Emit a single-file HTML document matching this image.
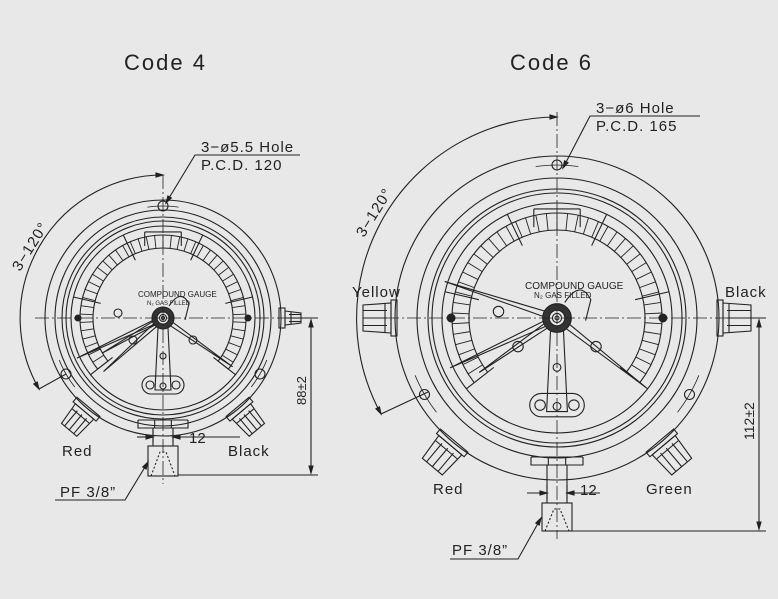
<!DOCTYPE html>
<html><head><meta charset="utf-8">
<style>
html,body{margin:0;padding:0;background:#e8e8e8;}
svg{display:block;}
text{font-family:"Liberation Sans",sans-serif;fill:#222;}
</style></head>
<body>
<svg id="s" width="778" height="599" viewBox="0 0 778 599" xmlns="http://www.w3.org/2000/svg">
<rect width="778" height="599" fill="#e8e8e8"/>
<g id="d" fill="none" stroke="#222" stroke-width="1.1"></g>
<text x="124" y="70" font-size="22" letter-spacing="2">Code 4</text>
<text x="510" y="70" font-size="22" letter-spacing="2">Code 6</text>
<text x="201" y="152" font-size="15" letter-spacing="1">3−ø5.5 Hole</text>
<text x="201" y="170" font-size="15" letter-spacing="1">P.C.D. 120</text>
<text x="596" y="113" font-size="15" letter-spacing="1">3−ø6 Hole</text>
<text x="596" y="131" font-size="15" letter-spacing="1">P.C.D. 165</text>
<text x="62" y="456" font-size="15" letter-spacing="1">Red</text>
<text x="228" y="456" font-size="15" letter-spacing="1">Black</text>
<text x="189" y="443" font-size="15">12</text>
<text x="60" y="497" font-size="15" letter-spacing="1">PF 3/8”</text>
<text x="352" y="297" font-size="15" letter-spacing="1">Yellow</text>
<text x="725" y="297" font-size="15" letter-spacing="1">Black</text>
<text x="433" y="494" font-size="15" letter-spacing="1">Red</text>
<text x="646" y="494" font-size="15" letter-spacing="1">Green</text>
<text x="580" y="495" font-size="15">12</text>
<text x="452" y="555" font-size="15" letter-spacing="1">PF 3/8”</text>
<text transform="translate(306,405) rotate(-90)" font-size="13">88±2</text>
<text transform="translate(754,440) rotate(-90)" font-size="14">112±2</text>
<text transform="translate(20,272) rotate(-58)" font-size="15" letter-spacing="1">3−120°</text>
<text transform="translate(364,238) rotate(-58)" font-size="15" letter-spacing="1">3−120°</text>
<text x="138" y="297" font-size="8">COMPOUND GAUGE</text>
<text x="147" y="305" font-size="6">N₂ GAS FILLED</text>
<text x="525" y="289" font-size="10">COMPOUND GAUGE</text>
<text x="534" y="298" font-size="8">N₂ GAS FILLED</text>
</svg>
<script>
var g=document.getElementById('d'),NS='http://www.w3.org/2000/svg';
function el(t,a){var e=document.createElementNS(NS,t);for(var k in a)e.setAttribute(k,a[k]);g.appendChild(e);return e;}
function L(x1,y1,x2,y2,ex){var a={x1:x1,y1:y1,x2:x2,y2:y2};for(var k in ex||{})a[k]=ex[k];return el('line',a);}
function C(x,y,r,ex){var a={cx:x,cy:y,r:r};for(var k in ex||{})a[k]=ex[k];return el('circle',a);}
function P(d,ex){var a={d:d};for(var k in ex||{})a[k]=ex[k];return el('path',a);}
function pt(cx,cy,r,deg){var a=deg*Math.PI/180;return [cx+r*Math.sin(a),cy-r*Math.cos(a)];}
var dash={'stroke-dasharray':'14 3 2 3','stroke-width':0.8};
function arrow(x,y,ang){var a=ang*Math.PI/180,s=7;var p1=[x-s*Math.cos(a)+2*Math.sin(a),y-s*Math.sin(a)-2*Math.cos(a)],p2=[x-s*Math.cos(a)-2*Math.sin(a),y-s*Math.sin(a)+2*Math.cos(a)];P('M'+x+','+y+'L'+p1+'L'+p2+'Z',{fill:'#222'});}
function gland(cx,cy,r0,deg,w,len){
 var grp=document.createElementNS(NS,'g');grp.setAttribute('transform','translate('+cx+','+cy+') rotate('+deg+')');g.appendChild(grp);
 function add(t,a){var e=document.createElementNS(NS,t);for(var k in a)e.setAttribute(k,a[k]);grp.appendChild(e);}
 add('rect',{x:-w/2-3,y:-r0-6,width:w+6,height:6});
 add('path',{d:'M'+(-w/2)+','+(-r0-6)+'L'+(-w/2+2)+','+(-r0-len)+'L'+(w/2-2)+','+(-r0-len)+'L'+(w/2)+','+(-r0-6)+'Z'});
 for(var i=1;i<4;i++){var xx=-w/2+i*w/4;add('line',{x1:xx,y1:-r0-10,x2:xx,y2:-r0-len});}
 add('line',{x1:-w/2+1,y1:-r0-12,x2:w/2-1,y2:-r0-12});
}
function gauge(o){
 var cx=o.cx,cy=o.cy,k=o.k;
 C(cx,cy,o.R);C(cx,cy,o.R2);C(cx,cy,o.R3);C(cx,cy,o.R3-4);C(cx,cy,o.R4);
 [0,120,240].forEach(function(a){var p=pt(cx,cy,o.Rh,a);C(p[0],p[1],5*k>7?6:5);
  var t1=pt(cx,cy,o.Rh,a-8),t2=pt(cx,cy,o.Rh,a+8);P('M'+t1+'A'+o.Rh+','+o.Rh+' 0 0 1 '+t2,{'stroke-width':0.8});});
 var r1=o.b1,r2=o.b2;
 var s=pt(cx,cy,r1,-128),e=pt(cx,cy,r1,128);P('M'+s+'A'+r1+','+r1+' 0 1 1 '+e);
 s=pt(cx,cy,r2,-128);e=pt(cx,cy,r2,128);P('M'+s+'A'+r2+','+r2+' 0 1 1 '+e);
 for(var a=-128;a<=128.1;a+=256/44){var p=pt(cx,cy,r1,a),q=pt(cx,cy,r2,a);L(p[0],p[1],q[0],q[1],{'stroke-width':0.9});}
 for(var a=-128;a<=128.1;a+=256/5){var p=pt(cx,cy,r1-6*k,a),q=pt(cx,cy,o.R4,a);L(p[0],p[1],q[0],q[1]);}
 var t1=pt(cx,cy,r2+5*k,-12),t2=pt(cx,cy,r2+5*k,12);L(t1[0],t1[1],t1[0],t1[1]+14*k);L(t2[0],t2[1],t2[0],t2[1]+14*k);L(t1[0],t1[1],t2[0],t2[1]);
 C(cx-o.R4+7*k,cy,3*k,{fill:'#222'});C(cx+o.R4-7*k,cy,3*k,{fill:'#222'});
 o.needles.forEach(function(n){var p=pt(cx,cy,n[1],n[0]);var q=pt(cx,cy,8*k,n[0]+90),r=pt(cx,cy,8*k,n[0]-90);
  P('M'+(cx+(q[0]-cx)*0.3)+','+(cy+(q[1]-cy)*0.3)+'L'+p+'L'+(cx+(r[0]-cx)*0.3)+','+(cy+(r[1]-cy)*0.3));});
 P('M'+(cx+6*k)+','+(cy-12*k)+'Q'+(cx+18*k)+','+(cy-30*k)+' '+(cx+26*k)+','+(cy-14*k)+'L'+(cx+22*k)+','+(cy+2*k));
 [[-30,22],[30,22],[-45,-5]].forEach(function(h){C(cx+h[0]*k,cy+h[1]*k,4*k);});
 C(cx,cy,11*k,{fill:'#333'});C(cx,cy,6*k,{fill:'#e8e8e8'});C(cx,cy,3.5*k);C(cx,cy,1.5*k);
 P('M'+(cx-5*k)+','+(cy+10*k)+'L'+(cx-8*k)+','+(cy+72*k)+'L'+(cx+8*k)+','+(cy+72*k)+'L'+(cx+5*k)+','+(cy+10*k));
 C(cx,cy+38*k,3*k);C(cx,cy+68*k,3*k);
 P('M'+(cx-12*k)+','+(cy+58*k)+'L'+(cx+12*k)+','+(cy+58*k)+'A'+(9*k)+','+(9*k)+' 0 0 1 '+(cx+12*k)+','+(cy+76*k)+'L'+(cx-12*k)+','+(cy+76*k)+'A'+(9*k)+','+(9*k)+' 0 0 1 '+(cx-12*k)+','+(cy+58*k));
 C(cx-13*k,cy+67*k,4*k);C(cx+13*k,cy+67*k,4*k);
 o.glands.forEach(function(d){gland(cx,cy,o.R-2,d,o.gw,o.gl);});
 var hb=o.hexY;L(cx-o.hw,hb,cx+o.hw,hb);P('M'+(cx-o.hw)+','+hb+'L'+(cx-o.hw)+','+(hb+8)+'L'+(cx+o.hw)+','+(hb+8)+'L'+(cx+o.hw)+','+hb);
 L(cx-o.hw/3,hb,cx-o.hw/3,hb+8);L(cx+o.hw/3,hb,cx+o.hw/3,hb+8);
 P('M'+(cx-10)+','+(hb+8)+'L'+(cx-10)+','+o.fy+'M'+(cx+10)+','+(hb+8)+'L'+(cx+10)+','+o.fy);
 el('rect',{x:cx-15,y:o.fy,width:30,height:o.fh});
 P('M'+(cx-12)+','+(o.fy+o.fh)+'L'+(cx-3)+','+(o.fy+6)+'L'+(cx+3)+','+(o.fy+6)+'L'+(cx+12)+','+(o.fy+o.fh),{'stroke-dasharray':'2 2'});
 L(cx-o.R-10,cy,cx+o.R+20,cy,dash);L(cx,o.cTop,cx,o.fy+o.fh+8,dash);
}
gauge({cx:163,cy:318,k:1,R:118,R2:108,R3:101,R4:92,Rh:112,b1:70,b2:83,
 needles:[[-115,95],[-120,70],[-132,80],[125,85]],glands:[-140,140],gw:24,gl:30,hexY:420,hw:25,fy:446,fh:30,cTop:175});
gland(163,318,116,90,14,22);
gauge({cx:557,cy:318,k:1.3,R:162,R2:140,R3:129,R4:115,Rh:153,b1:88,b2:105,
 needles:[[-72,118],[-115,118],[-125,95],[128,112]],glands:[-90,90,-140,140],gw:30,gl:34,hexY:457,hw:26,fy:503,fh:28,cTop:112});
P('M300,155L195,155L166,203');arrow(166,203,121);
L(173,437,240,437);L(153,437,137,437);arrow(153,437,0);arrow(173,437,180);L(153,428,153,443);L(173,428,173,443);
P('M55,500L125,500L148,462');arrow(148,462,-59);
L(285,318,318,318);L(178,475,318,475);L(311,320,311,473);arrow(311,320,-90);arrow(311,473,90);
P('M163,175A143,143 0 0 0 39,389');arrow(163,175,0);arrow(39,389,60);
L(39,389,66,374);
P('M700,116L590,116L563,168');arrow(563,168,118);
L(567,493,600,493);L(547,493,527,493);arrow(547,493,0);arrow(567,493,180);L(547,485,547,500);L(567,485,567,500);
P('M450,559L518,559L541,518');arrow(541,518,-60);
L(736,318,766,318);L(572,531,766,531);L(759,320,759,529);arrow(759,320,-90);arrow(759,529,90);
P('M557,117A201,201 0 0 0 381,414');arrow(557,117,0);arrow(381,414,62);
L(381,414,428,392);
</script>
</body></html>
